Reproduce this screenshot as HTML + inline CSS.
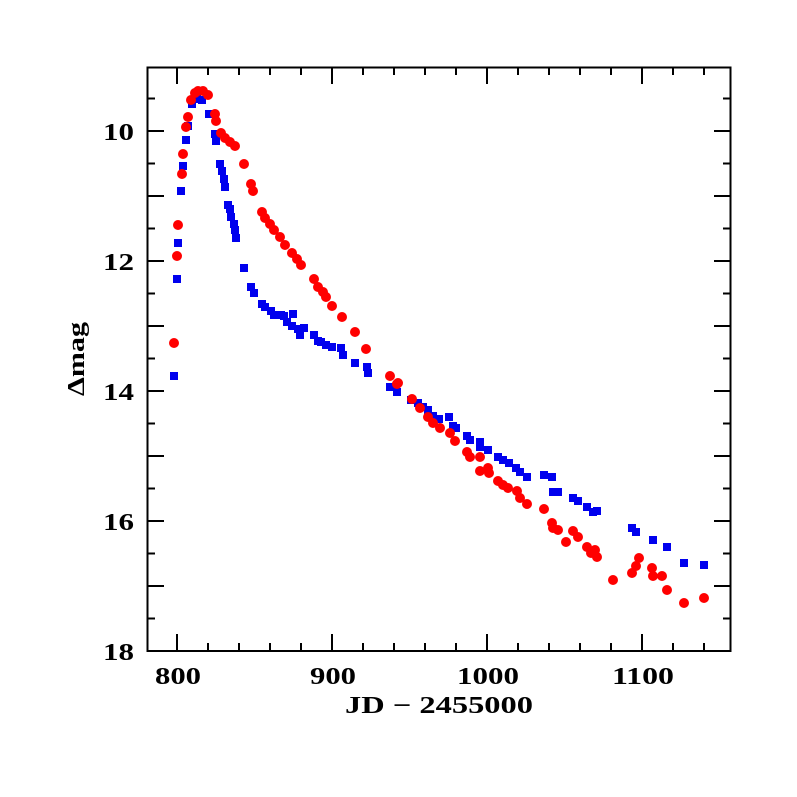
<!DOCTYPE html>
<html><head><meta charset="utf-8"><style>html,body{margin:0;padding:0;background:#fff}svg{display:block}text{font-family:"Liberation Serif",serif;font-weight:bold;font-size:24px;fill:#000}</style></head>
<body>
<svg width="797" height="797" viewBox="0 0 797 797" xmlns="http://www.w3.org/2000/svg">
<rect x="147.5" y="67.5" width="583" height="583.5" fill="none" stroke="#000" stroke-width="2"/>
<path stroke="#000" stroke-width="2" fill="none" d="
M177 651v-17M208 651v-8M239 651v-8M270 651v-8M301 651v-8M332 651v-17M363 651v-8M394 651v-8M425 651v-8M456 651v-8M487 651v-17M518 651v-8M549 651v-8M580 651v-8M611 651v-8M642 651v-17M673 651v-8M704 651v-8
M177 67v17M208 67v8M239 67v8M270 67v8M301 67v8M332 67v17M363 67v8M394 67v8M425 67v8M456 67v8M487 67v17M518 67v8M549 67v8M580 67v8M611 67v8M642 67v17M673 67v8M704 67v8
M147 98.5h8M147 131h17M147 163.5h8M147 196h17M147 228.5h8M147 261h17M147 293.5h8M147 326h17M147 358.5h8M147 391h17M147 423.5h8M147 456h17M147 488.5h8M147 521h17M147 553.5h8M147 586h17M147 618.5h8
M731 98.5h-8M731 131h-17M731 163.5h-8M731 196h-17M731 228.5h-8M731 261h-17M731 293.5h-8M731 326h-17M731 358.5h-8M731 391h-17M731 423.5h-8M731 456h-17M731 488.5h-8M731 521h-17M731 553.5h-8M731 586h-17M731 618.5h-8"/>
<g>
<text x="155" y="684" textLength="46" lengthAdjust="spacingAndGlyphs">800</text>
<text x="310" y="684" textLength="46" lengthAdjust="spacingAndGlyphs">900</text>
<text x="457" y="684" textLength="62" lengthAdjust="spacingAndGlyphs">1000</text>
<text x="612" y="684" textLength="62" lengthAdjust="spacingAndGlyphs">1100</text>
<text x="345" y="713" textLength="188" lengthAdjust="spacingAndGlyphs">JD − 2455000</text>
<text x="103" y="140" textLength="31" lengthAdjust="spacingAndGlyphs">10</text>
<text x="103" y="270" textLength="31" lengthAdjust="spacingAndGlyphs">12</text>
<text x="103" y="400" textLength="31" lengthAdjust="spacingAndGlyphs">14</text>
<text x="103" y="530" textLength="31" lengthAdjust="spacingAndGlyphs">16</text>
<text x="103" y="660" textLength="31" lengthAdjust="spacingAndGlyphs">18</text>
</g>
<text transform="translate(84,396) rotate(-90)" textLength="74" lengthAdjust="spacingAndGlyphs">Δmag</text>
<g fill="#0000ee">
<rect x="170" y="372" width="8" height="8"/><rect x="173" y="275" width="8" height="8"/><rect x="174" y="239" width="8" height="8"/><rect x="177" y="187" width="8" height="8"/><rect x="179" y="162" width="8" height="8"/><rect x="182" y="136" width="8" height="8"/><rect x="184" y="122" width="8" height="8"/><rect x="188" y="100" width="8" height="8"/><rect x="193" y="95" width="8" height="8"/><rect x="198" y="96" width="8" height="8"/><rect x="205" y="110" width="8" height="8"/><rect x="211" y="130" width="8" height="8"/><rect x="212" y="137" width="8" height="8"/><rect x="216" y="160" width="8" height="8"/><rect x="218" y="167" width="8" height="8"/><rect x="220" y="175" width="8" height="8"/><rect x="221" y="183" width="8" height="8"/><rect x="224" y="201" width="8" height="8"/><rect x="226" y="205" width="8" height="8"/><rect x="227" y="213" width="8" height="8"/><rect x="230" y="220" width="8" height="8"/><rect x="231" y="226" width="8" height="8"/><rect x="232" y="234" width="8" height="8"/><rect x="240" y="264" width="8" height="8"/><rect x="247" y="283" width="8" height="8"/><rect x="250" y="289" width="8" height="8"/><rect x="258" y="300" width="8" height="8"/><rect x="261" y="303" width="8" height="8"/><rect x="267" y="307" width="8" height="8"/><rect x="270" y="311" width="8" height="8"/><rect x="277" y="311" width="8" height="8"/><rect x="280" y="312" width="8" height="8"/><rect x="283" y="318" width="8" height="8"/><rect x="289" y="310" width="8" height="8"/><rect x="288" y="322" width="8" height="8"/><rect x="294" y="325" width="8" height="8"/><rect x="300" y="324" width="8" height="8"/><rect x="296" y="331" width="8" height="8"/><rect x="310" y="331" width="8" height="8"/><rect x="314" y="337" width="8" height="8"/><rect x="317" y="338" width="8" height="8"/><rect x="322" y="341" width="8" height="8"/><rect x="328" y="343" width="8" height="8"/><rect x="337" y="344" width="8" height="8"/><rect x="339" y="351" width="8" height="8"/><rect x="351" y="359" width="8" height="8"/><rect x="363" y="363" width="8" height="8"/><rect x="364" y="369" width="8" height="8"/><rect x="386" y="383" width="8" height="8"/><rect x="393" y="388" width="8" height="8"/><rect x="407" y="396" width="8" height="8"/><rect x="414" y="399" width="8" height="8"/><rect x="419" y="403" width="8" height="8"/><rect x="424" y="406" width="8" height="8"/><rect x="429" y="412" width="8" height="8"/><rect x="435" y="415" width="8" height="8"/><rect x="445" y="413" width="8" height="8"/><rect x="449" y="422" width="8" height="8"/><rect x="452" y="424" width="8" height="8"/><rect x="463" y="432" width="8" height="8"/><rect x="466" y="436" width="8" height="8"/><rect x="476" y="438" width="8" height="8"/><rect x="476" y="443" width="8" height="8"/><rect x="484" y="446" width="8" height="8"/><rect x="494" y="453" width="8" height="8"/><rect x="499" y="456" width="8" height="8"/><rect x="505" y="459" width="8" height="8"/><rect x="512" y="464" width="8" height="8"/><rect x="516" y="468" width="8" height="8"/><rect x="523" y="473" width="8" height="8"/><rect x="540" y="471" width="8" height="8"/><rect x="548" y="473" width="8" height="8"/><rect x="549" y="488" width="8" height="8"/><rect x="554" y="488" width="8" height="8"/><rect x="569" y="494" width="8" height="8"/><rect x="574" y="497" width="8" height="8"/><rect x="583" y="503" width="8" height="8"/><rect x="589" y="508" width="8" height="8"/><rect x="593" y="507" width="8" height="8"/><rect x="628" y="524" width="8" height="8"/><rect x="632" y="528" width="8" height="8"/><rect x="649" y="536" width="8" height="8"/><rect x="663" y="543" width="8" height="8"/><rect x="680" y="559" width="8" height="8"/><rect x="700" y="561" width="8" height="8"/>
</g>
<g fill="#ff0000">
<circle cx="174" cy="343" r="5"/><circle cx="177" cy="256" r="5"/><circle cx="178" cy="225" r="5"/><circle cx="182" cy="174" r="5"/><circle cx="183" cy="154" r="5"/><circle cx="186" cy="127" r="5"/><circle cx="188" cy="117" r="5"/><circle cx="191" cy="100" r="5"/><circle cx="195" cy="93" r="5"/><circle cx="198" cy="91" r="5"/><circle cx="203" cy="91" r="5"/><circle cx="208" cy="95" r="5"/><circle cx="215" cy="114" r="5"/><circle cx="216" cy="121" r="5"/><circle cx="221" cy="133" r="5"/><circle cx="225" cy="138" r="5"/><circle cx="230" cy="142" r="5"/><circle cx="235" cy="146" r="5"/><circle cx="244" cy="164" r="5"/><circle cx="251" cy="184" r="5"/><circle cx="253" cy="191" r="5"/><circle cx="262" cy="212" r="5"/><circle cx="265" cy="218" r="5"/><circle cx="270" cy="224" r="5"/><circle cx="274" cy="230" r="5"/><circle cx="280" cy="237" r="5"/><circle cx="285" cy="245" r="5"/><circle cx="292" cy="253" r="5"/><circle cx="297" cy="259" r="5"/><circle cx="301" cy="265" r="5"/><circle cx="314" cy="279" r="5"/><circle cx="318" cy="287" r="5"/><circle cx="323" cy="292" r="5"/><circle cx="326" cy="297" r="5"/><circle cx="332" cy="306" r="5"/><circle cx="342" cy="317" r="5"/><circle cx="355" cy="332" r="5"/><circle cx="366" cy="349" r="5"/><circle cx="390" cy="376" r="5"/><circle cx="397" cy="384" r="5"/><circle cx="398" cy="383" r="5"/><circle cx="412" cy="399" r="5"/><circle cx="420" cy="408" r="5"/><circle cx="428" cy="417" r="5"/><circle cx="433" cy="423" r="5"/><circle cx="440" cy="428" r="5"/><circle cx="450" cy="433" r="5"/><circle cx="455" cy="441" r="5"/><circle cx="467" cy="452" r="5"/><circle cx="470" cy="457" r="5"/><circle cx="480" cy="457" r="5"/><circle cx="480" cy="471" r="5"/><circle cx="488" cy="468" r="5"/><circle cx="489" cy="473" r="5"/><circle cx="498" cy="481" r="5"/><circle cx="503" cy="485" r="5"/><circle cx="508" cy="488" r="5"/><circle cx="517" cy="491" r="5"/><circle cx="520" cy="498" r="5"/><circle cx="527" cy="504" r="5"/><circle cx="544" cy="509" r="5"/><circle cx="552" cy="523" r="5"/><circle cx="553" cy="528" r="5"/><circle cx="558" cy="530" r="5"/><circle cx="566" cy="542" r="5"/><circle cx="573" cy="531" r="5"/><circle cx="578" cy="537" r="5"/><circle cx="587" cy="547" r="5"/><circle cx="591" cy="553" r="5"/><circle cx="595" cy="550" r="5"/><circle cx="597" cy="557" r="5"/><circle cx="613" cy="580" r="5"/><circle cx="632" cy="573" r="5"/><circle cx="636" cy="566" r="5"/><circle cx="639" cy="558" r="5"/><circle cx="652" cy="568" r="5"/><circle cx="653" cy="576" r="5"/><circle cx="662" cy="576" r="5"/><circle cx="667" cy="590" r="5"/><circle cx="684" cy="603" r="5"/><circle cx="704" cy="598" r="5"/>
</g>
</svg>
</body></html>
